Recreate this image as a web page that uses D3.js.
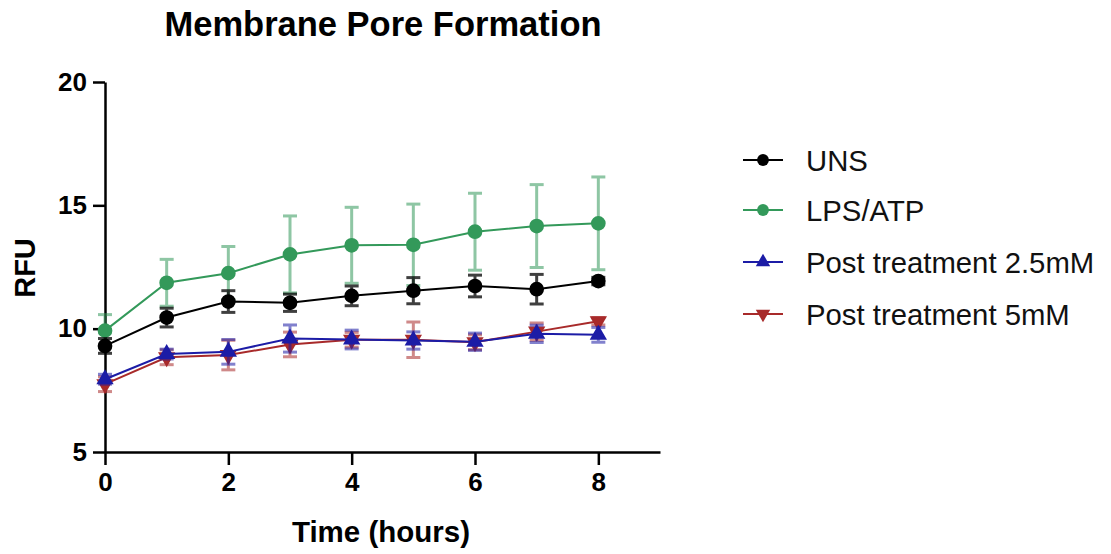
<!DOCTYPE html>
<html>
<head>
<meta charset="utf-8">
<script src="https://cdn.jsdelivr.net/npm/d3@7"></script>
<style>
  body { margin: 0; background: #fff; }
  text { font-family: "Liberation Sans", Arial, sans-serif; }
</style>
</head>
<body>
<svg id="chart" width="1111" height="554"></svg>
<script>
const hours = [0, 1, 2, 3, 4, 5, 6, 7, 8];
const seriesNames = ['UNS', 'LPS/ATP', 'Post treatment 2.5mM', 'Post treatment 5mM'];
const seriesColors = ['#000000', '#33995a', '#1c1ca6', '#a82a2a'];
const seriesShapes = ['circle', 'circle', 'triangle', 'triangleDown'];

const unsMean = [9.3, 10.45, 11.1, 11.05, 11.33, 11.54, 11.73, 11.6, 11.93];
const unsErr = [0.3, 0.38, 0.44, 0.35, 0.4, 0.53, 0.44, 0.6, 0.15];
const lpsMean = [9.92, 11.86, 12.25, 13.01, 13.38, 13.4, 13.93, 14.16, 14.27];
const lpsErr = [0.65, 0.95, 1.08, 1.56, 1.54, 1.65, 1.56, 1.68, 1.88];
const post25Mean = [7.95, 8.97, 9.06, 9.6, 9.56, 9.52, 9.47, 9.79, 9.75];
const post25Err = [0.2, 0.2, 0.5, 0.55, 0.38, 0.35, 0.35, 0.35, 0.3];
const post5Mean = [7.75, 8.84, 8.93, 9.36, 9.55, 9.55, 9.45, 9.88, 10.3];
const post5Err = [0.3, 0.3, 0.6, 0.5, 0.3, 0.72, 0.3, 0.35, 0.15];

const xTicks = [0, 2, 4, 6, 8];
const yTicks = [5, 10, 15, 20];

const means = [unsMean, lpsMean, post25Mean, post5Mean];
const errs = [unsErr, lpsErr, post25Err, post5Err];

const series = seriesNames.map((name, i) => ({
    name,
    color: seriesColors[i],
    shape: seriesShapes[i],
    values: hours.map((h, j) => ({ x: h, y: means[i][j], e: errs[i][j] })),
}));

const svg = d3.select('#chart');
const x = d3.scaleLinear().domain([0, 9]).range([105, 660]);
const y = d3.scaleLinear().domain([5, 20]).range([452, 82]);

const symbolPath = shape => {
    if (shape === 'circle') return d3.symbol(d3.symbolCircle, 170)();
    return d3.symbol(d3.symbolTriangle, 130)();
};
const symbolTransform = (shape, px, py) =>
    shape === 'triangleDown' ? `translate(${px},${py}) rotate(180)` : `translate(${px},${py})`;

// title
svg.append('text')
    .attr('x', 383)
    .attr('y', 36)
    .attr('text-anchor', 'middle')
    .attr('font-size', 34.5)
    .attr('font-weight', 'bold')
    .text('Membrane Pore Formation');

// axes
const xAxis = svg.append('g')
    .attr('transform', `translate(0, ${y(5)})`)
    .call(d3.axisBottom(x).tickValues(xTicks).tickSize(13).tickSizeOuter(0).tickPadding(8));
const yAxis = svg.append('g')
    .attr('transform', `translate(${x(0)}, 0)`)
    .call(d3.axisLeft(y).tickValues(yTicks).tickSize(12).tickSizeOuter(0).tickPadding(6));

[xAxis, yAxis].forEach(a => {
    a.select('.domain').attr('stroke', '#000').attr('stroke-width', 2.5);
    a.selectAll('.tick line').attr('stroke', '#000').attr('stroke-width', 2.5);
    a.selectAll('.tick text')
        .attr('fill', '#000')
        .attr('font-size', 26)
        .attr('font-weight', 'bold')
        .style('font-family', '"Liberation Sans", Arial, sans-serif');
});

svg.append('text')
    .attr('x', 381)
    .attr('y', 542)
    .attr('text-anchor', 'middle')
    .attr('font-size', 29.5)
    .attr('font-weight', 'bold')
    .text('Time (hours)');

svg.append('text')
    .attr('transform', 'translate(35, 268) rotate(-90)')
    .attr('text-anchor', 'middle')
    .attr('font-size', 29)
    .attr('font-weight', 'bold')
    .text('RFU');

// data: draw last series first so UNS sits on top
const line = d3.line().x(d => x(d.x)).y(d => y(d.y));
const plot = svg.append('g');

const groups = plot.selectAll('.series')
    .data(series.slice().reverse())
    .enter()
    .append('g')
    .classed('series', true);

groups.each(function(s) {
    const g = d3.select(this);
    const bars = g.append('g')
        .attr('stroke', s.color)
        .attr('stroke-width', 3)
        .attr('opacity', s.color === '#000000' ? 0.75 : 0.55);
    s.values.forEach(d => {
        bars.append('line')
            .attr('x1', x(d.x)).attr('x2', x(d.x))
            .attr('y1', y(d.y - d.e)).attr('y2', y(d.y + d.e));
        [d.y - d.e, d.y + d.e].forEach(v => {
            bars.append('line')
                .attr('x1', x(d.x) - 7).attr('x2', x(d.x) + 7)
                .attr('y1', y(v)).attr('y2', y(v));
        });
    });

    g.append('path')
        .datum(s.values)
        .attr('fill', 'none')
        .attr('stroke', s.color)
        .attr('stroke-width', 2)
        .attr('d', line);

    g.selectAll('.pt')
        .data(s.values)
        .enter()
        .append('path')
        .classed('pt', true)
        .attr('d', symbolPath(s.shape))
        .attr('transform', d => symbolTransform(s.shape, x(d.x), y(d.y)))
        .attr('fill', s.color);
});

// legend
const legendRows = [160, 210, 262, 314];
const legend = svg.append('g');
series.forEach((s, i) => {
    const row = legend.append('g').attr('transform', `translate(0, ${legendRows[i]})`);
    row.append('line')
        .attr('x1', 743).attr('x2', 783)
        .attr('y1', 0).attr('y2', 0)
        .attr('stroke', s.color)
        .attr('stroke-width', 2);
    row.append('path')
        .attr('d', s.shape === 'circle' ? d3.symbol(d3.symbolCircle, 110)() : d3.symbol(d3.symbolTriangle, 90)())
        .attr('transform', symbolTransform(s.shape, 763, 0))
        .attr('fill', s.color);
    row.append('text')
        .attr('x', 806)
        .attr('y', 0)
        .attr('dy', '0.36em')
        .attr('font-size', 29.3)
        .attr('fill', '#111')
        .text(s.name);
});
</script>
</body>
</html>
